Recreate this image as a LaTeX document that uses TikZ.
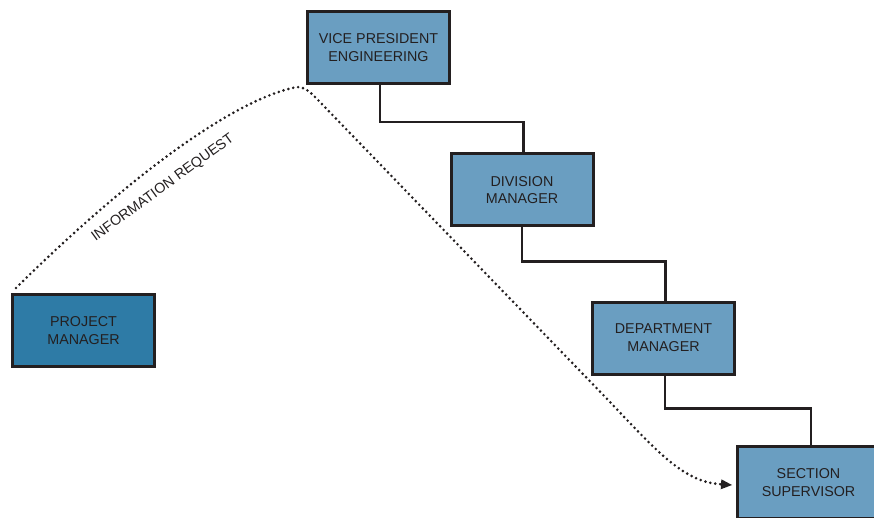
\documentclass[tikz,border=0pt]{standalone}
\usepackage{fontspec}
\setmainfont{Liberation Sans}
\usetikzlibrary{arrows.meta,calc}
\definecolor{boxlight}{HTML}{6A9EC1}
\definecolor{boxdark}{HTML}{2E7BA6}
\definecolor{ink}{HTML}{231F20}
\tikzset{
  orgbox/.style={draw=ink, line width=3pt, fill=boxlight, minimum width=142pt, minimum height=72pt,
    inner sep=0pt, align=center, text=ink, font=\fontsize{14.3}{17.8}\selectfont},
  pmbox/.style={orgbox, fill=boxdark},
  elbow/.style={draw=ink, line width=2.4pt},
  dotline/.style={draw=ink, line width=2.9pt, line cap=round, dash pattern=on 0pt off 5pt},
  lbl/.style={text=ink, font=\fontsize{14.3}{16}\selectfont, inner sep=0pt}
}
\begin{document}
\begin{tikzpicture}[x=1pt,y=-1pt]
\useasboundingbox (0,0) rectangle (874,518);
\clip (0,0) rectangle (874,518);
\node[orgbox] (vp) at (378.5,47.5) {VICE PRESIDENT\\ENGINEERING};
\node[orgbox] (div) at (522,190) {DIVISION\\MANAGER};
\node[orgbox] (dept) at (663.5,338) {DEPARTMENT\\MANAGER};
\node[orgbox] (sec) at (808.5,482.5) {SECTION\\SUPERVISOR};
\node[pmbox] (pm) at (83.5,330.5) {PROJECT\\MANAGER};

\draw[elbow] ([xshift=1.5pt]vp.south) -- ++(0,37) -| ([xshift=1.5pt]div.north);
\draw[elbow] (div.south) -- ++(0,34) -| ([xshift=2pt]dept.north);
\draw[elbow] ([xshift=1.5pt]dept.south) -- ++(0,33) -| ([xshift=2.5pt]sec.north);

\draw[dotline, -{Triangle[length=11pt,width=10pt,line width=0pt]}]
  ([xshift=5pt,yshift=5pt]pm.north west)
  .. controls (120,185) and (230,100) .. (297,87)
  .. controls (306,87) and (312,94) .. (318,100)
  -- (610,402)
  .. controls (660,455) and (685,482) .. ([xshift=-4pt,yshift=-2.5pt]sec.west);

\node[lbl, rotate=36] (req) at (163,188) {INFORMATION REQUEST};
\end{tikzpicture}
\end{document}
